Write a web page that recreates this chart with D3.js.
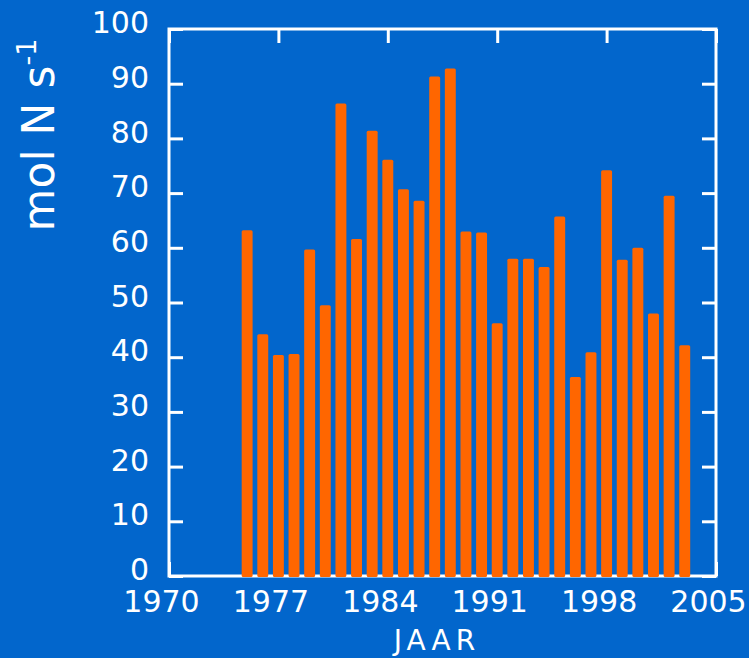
<!DOCTYPE html>
<html>
<head>
<meta charset="utf-8">
<script src="https://cdn.jsdelivr.net/npm/d3@7"></script>
<style>
  body { margin: 0; background: #0266CC; }
  svg { display: block; }
  text { font-family: "Comic Sans MS", "DejaVu Sans", sans-serif; fill: #fff; }
</style>
</head>
<body>
<script>
// years and yearly nitrogen load (mol N s-1)
let years = d3.range(1975, 2004);

let values = [63.2, 44.2, 40.4, 40.6, 59.7, 49.5, 86.4, 61.6, 81.4, 76.1,
  70.7, 68.6, 91.3, 92.8, 63.0, 62.8, 46.2, 58.0, 58.0, 56.5,
  65.7, 36.4, 40.9, 74.2, 57.8, 60.0, 48.0, 69.5, 42.2];

let xTicks = [1970, 1977, 1984, 1991, 1998, 2005];
let yTicks = d3.range(0, 101, 10);

let width = 749;
let height = 658;
let margin = ({top: 29, right: 33, bottom: 82, left: 169});

let bg = "#0266CC";
let color = "#FF6600";

let x = d3.scaleLinear()
  .domain([1970, 2005])
  .range([margin.left, width - margin.right]);

let y = d3.scaleLinear()
  .domain([0, 100])
  .range([height - margin.bottom, margin.top]);

let svg = d3.select("body")
  .append("svg")
  .attr("width", width)
  .attr("height", height);

svg.append("rect")
  .attr("width", width)
  .attr("height", height)
  .attr("fill", bg);

// ticks point inward on all four sides
let styleAxis = g => {
  g.select(".domain").remove();
  g.selectAll(".tick line").attr("stroke", "#fff").attr("stroke-width", 3);
  g.selectAll(".tick text")
    .attr("fill", "#fff")
    .attr("font-size", 30)
    .attr("font-family", null);
};

svg.append("g")
  .attr("transform", `translate(${margin.left},0)`)
  .call(d3.axisLeft(y).tickValues(yTicks).tickSizeInner(-14).tickSizeOuter(0).tickPadding(20))
  .call(styleAxis)
  .call(g => g.selectAll(".tick text").attr("dy", "0.12em"));

svg.append("g")
  .attr("transform", `translate(${width - margin.right},0)`)
  .call(d3.axisRight(y).tickValues(yTicks).tickSizeInner(-14).tickSizeOuter(0).tickFormat(""))
  .call(styleAxis);

svg.append("g")
  .attr("transform", `translate(0,${height - margin.bottom})`)
  .call(d3.axisBottom(x).tickValues(xTicks).tickFormat(d3.format("d")).tickSizeInner(-14).tickSizeOuter(0).tickPadding(15))
  .call(styleAxis)
  .call(g => g.selectAll(".tick text").attr("dx", -8));

svg.append("g")
  .attr("transform", `translate(0,${margin.top})`)
  .call(d3.axisTop(x).tickValues(xTicks).tickSizeInner(-14).tickSizeOuter(0).tickFormat(""))
  .call(styleAxis);

// frame
svg.append("rect")
  .attr("x", margin.left)
  .attr("y", margin.top)
  .attr("width", width - margin.right - margin.left)
  .attr("height", height - margin.bottom - margin.top)
  .attr("fill", "none")
  .attr("stroke", "#fff")
  .attr("stroke-width", 3);

// bars
let barW = x(1970.7) - x(1970);

svg.append("g")
  .attr("fill", color)
  .selectAll("rect")
  .data(values)
  .join("rect")
    .attr("x", (d, i) => x(years[i]) - barW / 2)
    .attr("y", d => y(d))
    .attr("height", d => y(0) - y(d) + 1)
    .attr("width", barW)
    .attr("rx", 1.5);

// axis titles
svg.append("text")
  .attr("x", 437)
  .attr("y", 650)
  .attr("text-anchor", "middle")
  .attr("font-size", 28)
  .attr("letter-spacing", 5)
  .text("JAAR");

let yTitle = svg.append("text")
  .attr("transform", "translate(54,135) rotate(-90)")
  .attr("text-anchor", "middle")
  .attr("font-size", 44);

yTitle.append("tspan").text("mol N s");
yTitle.append("tspan")
  .attr("font-size", 27)
  .attr("dy", -18)
  .text("-1");
</script>
</body>
</html>
